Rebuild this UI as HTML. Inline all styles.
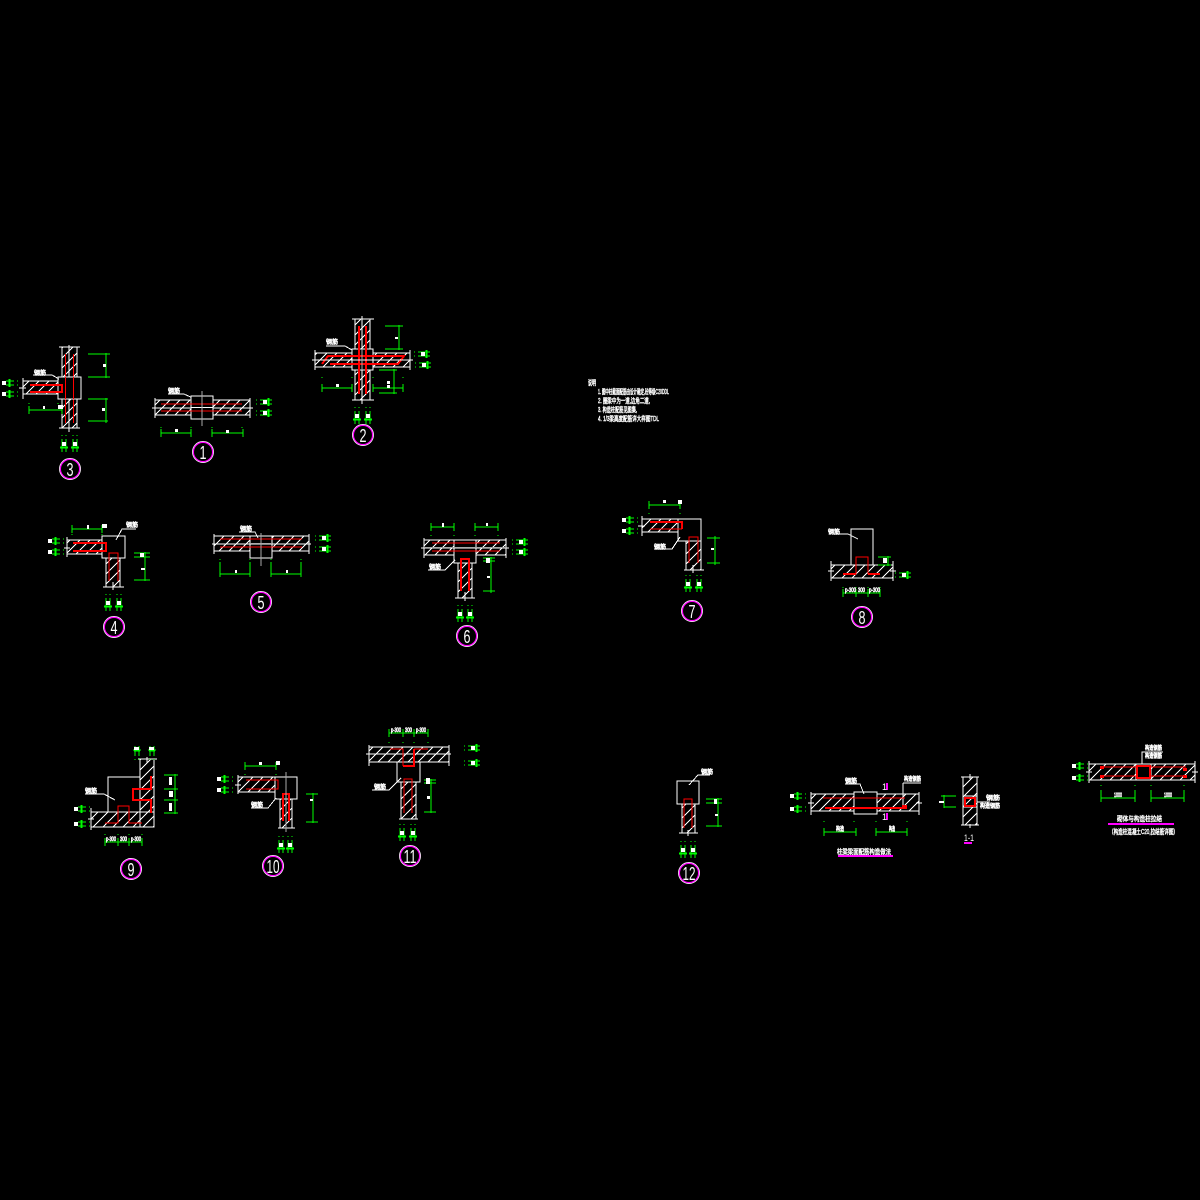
<!DOCTYPE html>
<html><head><meta charset="utf-8"><style>
html,body{margin:0;padding:0;background:#000}
svg{display:block}
.w{fill:none;stroke:#fff;stroke-width:1}
.y{fill:none;stroke:#aaa;stroke-width:1}
.g{fill:none;stroke:#0f0;stroke-width:1}
.r{fill:none;stroke:#f00;stroke-width:1}
.R{fill:none;stroke:#f00;stroke-width:2}
.m{fill:none;stroke:#f0f;stroke-width:2}
.h{fill:url(#h);stroke:#fff;stroke-width:1}
.n{fill:#000;stroke:#fff;stroke-width:1}
text{font-family:"Liberation Sans","Noto Sans CJK SC",sans-serif;fill:#fff}
.t{font-size:6px;stroke:#fff;stroke-width:.6}
.s{font-size:7px;stroke:#fff;stroke-width:.45}
.c{font-size:18px;text-anchor:middle}
</style></head><body>
<svg width="1200" height="1200" viewBox="0 0 1200 1200" xmlns="http://www.w3.org/2000/svg">
<defs>
<pattern id="h" patternUnits="userSpaceOnUse" width="10" height="10"><path d="M-1,11L11,-1M-1,1L1,-1M9,11L11,9" stroke="#fff" stroke-width="1" fill="none" shape-rendering="crispEdges"/></pattern>
<g id="tv"><path d="M-2,-4v1M2,-4v1M-2,0V13M2,0V13M-4,8H4M-3,9H3M-4,9H4" class="g"/><rect x="-2" y="3" width="4" height="4" fill="#fff"/></g>
<g id="tu"><path d="M-2,10v1M2,10v1M-2,-3V7M2,-3V7M-4,1H4M-3,2H3" class="g"/><rect x="-3" y="-2" width="5" height="3" fill="#fff"/></g>
<g id="tr"><path d="M0,-2h1M0,2h1M4,-2H16M4,2H16M12,-4V4M13,-4V4" class="g"/><rect x="7" y="-2" width="4" height="4" fill="#fff"/></g>
<g id="tl"><path d="M0,-2h1M0,2h1M-3,-2H-11M-3,2H-11M-8,-4V4M-7,-4V4" class="g"/><rect x="-15" y="-2" width="4" height="4" fill="#fff"/></g>
<g id="cc"><circle r="10.5" fill="none" stroke="#fff" stroke-width=".9"/><circle r="9.6" fill="none" stroke="#f0f" stroke-width="1.2"/></g>
</defs>
<rect width="1200" height="1200" fill="#000"/>
<g shape-rendering="crispEdges">

<!-- 3 -->
<rect class="h" x="62" y="347" width="15" height="81"/>
<path class="w" d="M59,347H80M59,428H80M69,345V432"/>
<rect class="h" x="23" y="381" width="36" height="13"/>
<path class="r" d="M65.500,354V423M73.500,354V423"/>
<rect class="n" x="58" y="377" width="23" height="22"/>
<path class="r" d="M65.500,377V399M73.500,377V399"/>
<path class="R" d="M30,385H62V392H30"/>
<path class="w" d="M23,378V399M19,388H26M33,375H52L59,379"/>
<text class="t" x="34" y="375">钢筋</text>
<path class="g" d="M88,354H110M88,377H110M106,353V378M88,399H108M88,421H108M106,398V423M29,410H62M29,406V414M62,406V414M29,403v1M58,403v1"/>
<rect x="103" y="364" width="3" height="3" fill="#fff"/><rect x="102" y="408" width="3" height="3" fill="#fff"/><rect x="43" y="406" width="2" height="3" fill="#fff"/><rect x="58" y="405" width="5" height="4" fill="#fff"/>
<use href="#tl" x="17" y="383"/><use href="#tl" x="17" y="394"/>
<use href="#tv" x="64" y="439"/><use href="#tv" x="75" y="439"/>

<!-- 1 -->
<rect class="h" x="155" y="400" width="95" height="15"/>
<path class="w" d="M155,398V418M250,398V418M152,408H253M168,394H184L195,399"/>
<rect class="n" x="191" y="396" width="22" height="23"/>
<path class="r" d="M161,404H242M161,411H242"/>
<path class="w" d="M191,407.500H213"/>
<path class="y" d="M202,391V426"/>
<text class="t" x="168" y="393">钢筋</text>
<path class="g" d="M161,433H191M212,433H243M161,429V437M191,429V437M212,429V437M243,429V437M161,427v1M191,427v1M212,427v1M242,427v1"/>
<rect x="175" y="429" width="3" height="3" fill="#fff"/><rect x="226" y="430" width="3" height="3" fill="#fff"/>
<use href="#tr" x="256" y="402"/><use href="#tr" x="256" y="413"/>

<!-- 2 -->
<rect class="h" x="355" y="319" width="15" height="81"/>
<path class="w" d="M352,319H374M352,400H374M362,316V404"/>
<rect class="h" x="315" y="353" width="95" height="14"/>
<rect class="n" x="352" y="349" width="21" height="21"/>
<path class="R" d="M359,326V394M366,326V394M322,364L328,356H404L398,364H330"/>
<path class="R" d="M352,356H373M352,364H373"/>
<path class="w" d="M315,350V370M410,350V370M312,360H413M326,346H345L352,350"/>
<path class="y" d="M362,349V370"/>
<text class="t" x="326" y="344">钢筋</text>
<path class="g" d="M385,326H403M385,349H403M399,325V350M379,370H397M379,393H397M394,369V394M322,388H352M322,384V392M352,384V392M373,388H403M373,384V392M403,384V392M322,377v1M352,377v1M373,377v1M403,377v1"/>
<rect x="395" y="337" width="3" height="2" fill="#fff"/><rect x="336" y="384" width="3" height="3" fill="#fff"/><rect x="387" y="381" width="3" height="3" fill="#fff"/><rect x="387" y="385" width="3" height="3" fill="#fff"/>
<use href="#tr" x="414" y="354"/><use href="#tr" x="415" y="365"/>
<use href="#tv" x="357" y="411"/><use href="#tv" x="368" y="411"/>

<!-- 4 -->
<rect class="h" x="67" y="540" width="35" height="14"/>
<rect class="h" x="106" y="558" width="14" height="29"/>
<rect class="n" x="102" y="536" width="23" height="22"/>
<path class="w" d="M67,537V557M64,548H70M103,587H124M113,582V590M136,529H122L116,540"/>
<text class="t" x="126" y="527">钢筋</text>
<path class="R" d="M73,543H106V551H73"/>
<path class="r" d="M109,581V553H118V581"/>
<path class="g" d="M72,529H102M72,525V533M102,525V533M72,534v1M102,534v1M134,553H150M134,557H150M134,580H150M145,552V581"/>
<rect x="87" y="525" width="2" height="4" fill="#fff"/><rect x="102" y="524" width="5" height="4" fill="#fff"/><rect x="140" y="553" width="4" height="4" fill="#fff"/><rect x="141" y="568" width="4" height="2" fill="#fff"/>
<use href="#tl" x="63" y="541"/><use href="#tl" x="63" y="552"/>
<use href="#tv" x="108" y="598"/><use href="#tv" x="119" y="598"/>

<!-- 5 -->
<rect class="h" x="214" y="536" width="95" height="15"/>
<rect class="n" x="250" y="536" width="22" height="22"/>
<path class="w" d="M214,534V554M309,534V554M212,544H311M239,532H255L258,538"/>
<path class="r" d="M220,539H302M220,547H302"/>
<path class="y" d="M261,533V566M250,543.500H272"/>
<text class="t" x="240" y="531">钢筋</text>
<path class="g" d="M220,574H250M271,574H301M220,562V577M250,562V577M271,562V577M301,562V577M220,559v1M250,559v1M271,559v1M301,559v1"/>
<rect x="235" y="570" width="2" height="3" fill="#fff"/><rect x="286" y="570" width="2" height="3" fill="#fff"/>
<use href="#tr" x="315" y="538"/><use href="#tr" x="315" y="549"/>

<!-- 6 -->
<rect class="h" x="424" y="540" width="82" height="15"/>
<rect class="h" x="458" y="563" width="14" height="35"/>
<rect class="n" x="454" y="540" width="22" height="23"/>
<path class="w" d="M424,538V558M506,538V558M421,548H509M455,598H475M465,592V601M428,570H445L455,560"/>
<path class="y" d="M424,547.500H506"/>
<path class="r" d="M432,543H500M432,551H500"/>
<path class="R" d="M461,591V559H469V591"/>
<text class="t" x="429" y="569">钢筋</text>
<path class="g" d="M431,527H454M475,527H498M431,523V531M454,523V531M475,523V531M498,523V531M431,535v1M454,535v1M475,535v1M498,535v1M483,558H495M483,561H495M483,591H495M491,557V593"/>
<rect x="442" y="523" width="2" height="4" fill="#fff"/><rect x="486" y="523" width="2" height="3" fill="#fff"/><rect x="486" y="558" width="4" height="5" fill="#fff"/><rect x="487" y="576" width="3" height="2" fill="#fff"/>
<use href="#tr" x="512" y="542"/><use href="#tr" x="512" y="552"/>
<use href="#tv" x="460" y="609"/><use href="#tv" x="470" y="609"/>

<!-- 7 -->
<rect class="h" x="642" y="519" width="36" height="13"/>
<rect class="h" x="686" y="541" width="15" height="29"/>
<rect class="n" x="678" y="519" width="23" height="22"/>
<path class="w" d="M642,516V536M638,526H645M684,570H704M693,565V573M654,549H672L680,537"/>
<path class="R" d="M650,522H682V529"/>
<path class="r" d="M650,529H682M689,563V537H698V563"/>
<text class="t" x="654" y="549">钢筋</text>
<path class="g" d="M649,505H680M649,501V509M680,501V509M649,513v1M680,513v1M707,538H720M707,563H720M715,536V565"/>
<rect x="663" y="500" width="3" height="3" fill="#fff"/><rect x="678" y="500" width="4" height="4" fill="#fff"/><rect x="711" y="548" width="3" height="2" fill="#fff"/>
<use href="#tl" x="637" y="520"/><use href="#tl" x="637" y="531"/>
<use href="#tv" x="688" y="579"/><use href="#tv" x="699" y="579"/>

<!-- 8 -->
<rect class="h" x="831" y="565" width="62" height="13"/>
<path class="w" d="M851,565V529H873V565M831,561V581M893,561V581M828,571H834M890,571H896M837,534H848L858,539"/>
<path class="r" d="M856,574V557H868V574"/>
<path class="R" d="M843,574H856M868,574H880"/>
<text class="t" x="828" y="534">钢筋</text>
<path class="g" d="M878,557H891M878,565H891M888,556V566M843,593H880M843,589V597M856,589V597M868,589V597M880,589V597M843,587v1M856,587v1M868,587v1M880,587v1"/>
<rect x="883" y="558" width="4" height="5" fill="#fff"/>
<text class="t" x="845" y="592" textLength="11" lengthAdjust="spacingAndGlyphs">p-300</text><text class="t" x="858" y="592" textLength="7" lengthAdjust="spacingAndGlyphs">300</text><text class="t" x="869" y="592" textLength="11" lengthAdjust="spacingAndGlyphs">p-300</text>
<use href="#tr" x="895" y="575"/>

<!-- 9 -->
<rect class="h" x="140" y="759" width="14" height="68"/>
<rect class="h" x="91" y="812" width="63" height="15"/>
<path class="w" d="M108,812V777H140M91,808V830M88,819H94M138,759H157M147,757V763M85,794H104L115,800"/>
<path class="R" d="M151,776V789H133V800H151V813"/>
<path class="r" d="M105,823H118V806H129V823H142"/>
<text class="t" x="85" y="793">钢筋</text>
<path class="g" d="M164,775H178M164,789H178M164,800H178M164,813H178M175,774V814M105,842H142M105,838V846M118,838V846M129,838V846M142,838V846M105,834v1M118,834v1M129,834v1M142,834v1"/>
<rect x="169" y="777" width="3" height="8" fill="#fff"/><rect x="169" y="791" width="4" height="6" fill="#fff"/><rect x="169" y="803" width="3" height="8" fill="#fff"/>
<text class="t" x="106" y="841" textLength="10" lengthAdjust="spacingAndGlyphs">p-300</text><text class="t" x="120" y="841" textLength="7" lengthAdjust="spacingAndGlyphs">300</text><text class="t" x="131" y="841" textLength="10" lengthAdjust="spacingAndGlyphs">p-300</text>
<use href="#tu" x="137" y="749"/><use href="#tu" x="152" y="749"/>
<use href="#tl" x="89" y="809"/><use href="#tl" x="89" y="824"/>

<!-- 10 -->
<rect class="h" x="238" y="777" width="37" height="15"/>
<rect class="h" x="280" y="799" width="12" height="29"/>
<rect class="n" x="275" y="777" width="22" height="22"/>
<path class="w" d="M238,775V794M235,785H241M278,828H295M251,808H268L276,798"/>
<path class="r" d="M246,789H278V780H246"/>
<path class="R" d="M283,821V794H289V821"/>
<path class="y" d="M286,772V832"/>
<text class="t" x="251" y="807">钢筋</text>
<path class="g" d="M245,766H276M245,762V770M276,762V770M245,774v1M276,774v1M306,794H318M306,822H318M313,793V823"/>
<rect x="259" y="762" width="3" height="3" fill="#fff"/><rect x="276" y="761" width="4" height="4" fill="#fff"/><rect x="310" y="799" width="3" height="2" fill="#fff"/>
<use href="#tl" x="232" y="779"/><use href="#tl" x="232" y="790"/>
<use href="#tv" x="281" y="840"/><use href="#tv" x="290" y="840"/>

<!-- 11 -->
<rect class="h" x="369" y="747" width="80" height="15"/>
<rect class="h" x="401" y="782" width="15" height="37"/>
<rect class="n" x="397" y="762" width="23" height="20"/>
<path class="w" d="M369,745V766M449,745V766M366,754H451M399,819H418M372,790H389L401,778"/>
<path class="r" d="M390,749H403V766M414,749H428M404,813V779H412V813"/>
<path class="R" d="M403,766H414V749"/>
<text class="t" x="374" y="789">钢筋</text>
<path class="g" d="M389,733H428M389,729V737M403,729V737M414,729V737M428,729V737M389,742v1M403,742v1M414,742v1M428,742v1M424,780H436M424,783H436M424,812H436M431,779V813"/>
<text class="t" x="391" y="732" textLength="10" lengthAdjust="spacingAndGlyphs">p-300</text><text class="t" x="405" y="732" textLength="7" lengthAdjust="spacingAndGlyphs">300</text><text class="t" x="416" y="732" textLength="10" lengthAdjust="spacingAndGlyphs">p-300</text>
<rect x="426" y="778" width="4" height="6" fill="#fff"/><rect x="427" y="796" width="3" height="3" fill="#fff"/>
<use href="#tr" x="464" y="748"/><use href="#tr" x="464" y="763"/>
<use href="#tv" x="402" y="828"/><use href="#tv" x="413" y="828"/>

<!-- 12 -->
<rect class="h" x="682" y="804" width="13" height="29"/>
<rect class="n" x="677" y="781" width="22" height="23"/>
<path class="w" d="M679,833H698M688,830V836M710,775H698L689,785"/>
<path class="r" d="M684,828V799H692V828"/>
<text class="t" x="701" y="774">钢筋</text>
<path class="g" d="M706,799H722M706,803H722M706,826H722M718,798V827"/>
<rect x="714" y="799" width="3" height="5" fill="#fff"/><rect x="715" y="814" width="3" height="2" fill="#fff"/>
<use href="#tv" x="683" y="845"/><use href="#tv" x="693" y="845"/>

<!-- beam -->
<rect class="h" x="811" y="794" width="108" height="17"/>
<rect class="n" x="854" y="792" width="23" height="22"/>
<path class="w" d="M811,792V815M919,792V815M808,803H814M916,803H922M845,784H860L864,794M903,783H921M903,783V808"/>
<path class="r" d="M823,798H905"/>
<path class="R" d="M825,808H905"/>
<rect x="902" y="805" width="5" height="4" fill="#f00"/>
<path class="m" d="M887,783V790M887,813V820"/>
<text class="t" x="845" y="783">钢筋</text>
<text x="882" y="790" font-size="9">1</text><text x="882" y="820" font-size="9">1</text>
<text class="t" x="904" y="781" textLength="17" lengthAdjust="spacingAndGlyphs">构造钢筋</text>
<path class="g" d="M824,832H856M876,832H907M824,828V836M856,828V836M876,828V836M907,828V836M824,821v1M854,821v1M876,821v1M907,821v1"/>
<text class="t" x="836" y="831" textLength="8" lengthAdjust="spacingAndGlyphs">构造</text><text class="t" x="889" y="831" textLength="6" lengthAdjust="spacingAndGlyphs">构造</text>
<use href="#tl" x="805" y="796"/><use href="#tl" x="805" y="809"/>
<text class="s" x="837" y="854" textLength="54" lengthAdjust="spacingAndGlyphs" stroke-width=".5">柱梁梁面配筋构造做法</text>
<path class="m" d="M838,856H893"/>

<!-- section 1-1 -->
<rect class="h" x="963" y="777" width="14" height="48"/>
<path class="w" d="M961,777H979M961,825H979M970,774V779M970,824V828M963,796H977M963,807H977M977,802H990"/>
<rect x="965" y="798" width="10" height="8" fill="none" stroke="#f00" stroke-width="2"/>
<text class="t" x="986" y="800" textLength="14" lengthAdjust="spacingAndGlyphs">钢筋</text><text class="t" x="980" y="808" textLength="20" lengthAdjust="spacingAndGlyphs">构造钢筋</text>
<path class="g" d="M941,796H956M944,807H956M944,795V808"/>
<rect x="939" y="801" width="5" height="2" fill="#fff"/>
<text x="964" y="841" font-size="9" textLength="10" lengthAdjust="spacingAndGlyphs">1-1</text>
<path class="m" d="M964,843H972"/>

<!-- right beam -->
<rect class="h" x="1089" y="764" width="106" height="16"/>
<rect class="n" x="1136" y="764" width="15" height="16"/>
<path class="w" d="M1089,761V783M1195,761V783M1086,772H1092M1192,772H1198M1142,764V752H1163"/>
<path class="r" d="M1101,767H1136M1151,767H1186M1101,776H1136M1151,776H1186"/>
<rect x="1137" y="766" width="13" height="12" fill="none" stroke="#f00" stroke-width="2"/>
<rect x="1100" y="766" width="4" height="3" fill="#f00"/><rect x="1100" y="775" width="4" height="3" fill="#f00"/><rect x="1183" y="768" width="4" height="3" fill="#f00"/><rect x="1183" y="775" width="4" height="3" fill="#f00"/>
<text class="t" x="1145" y="750" textLength="17" lengthAdjust="spacingAndGlyphs">构造钢筋</text><text class="t" x="1145" y="758" textLength="17" lengthAdjust="spacingAndGlyphs">构造钢筋</text>
<path class="g" d="M1101,798H1135M1151,798H1184M1101,790V802M1135,790V802M1151,790V802M1184,790V802M1101,785v1M1135,785v1M1151,785v1M1184,785v1"/>
<text class="t" x="1114" y="797" textLength="8" lengthAdjust="spacingAndGlyphs">1000</text><text class="t" x="1164" y="797" textLength="8" lengthAdjust="spacingAndGlyphs">1000</text>
<use href="#tl" x="1087" y="766"/><use href="#tl" x="1087" y="778"/>
<text class="s" x="1117" y="821" textLength="45" lengthAdjust="spacingAndGlyphs" stroke-width=".5">砌体与构造柱拉结</text>
<path class="m" d="M1108,824H1174"/>
<text class="s" x="1109" y="834" textLength="69" lengthAdjust="spacingAndGlyphs">（构造柱混凝土C20,拉结筋详图）</text>

<!-- notes -->
<text class="s" x="588" y="385" textLength="8" lengthAdjust="spacingAndGlyphs">说明</text>
<text class="s" x="598" y="394" textLength="71" lengthAdjust="spacingAndGlyphs">1. 图中柱截面配筋由设计确定,砼等级C20DDL</text>
<text class="s" x="598" y="403" textLength="52" lengthAdjust="spacingAndGlyphs">2. 圈梁中为一道,边角二道,</text>
<text class="s" x="598" y="412" textLength="39" lengthAdjust="spacingAndGlyphs">3. 构造柱配筋见图集,</text>
<text class="s" x="598" y="421" textLength="61" lengthAdjust="spacingAndGlyphs">4. 1/3梁高度配筋详大样图TDL</text>
</g>

<!-- circles -->
<use href="#cc" x="70" y="469"/><text class="c" x="70" y="476" textLength="7" lengthAdjust="spacingAndGlyphs">3</text>
<use href="#cc" x="203" y="452"/><text class="c" x="203" y="459" textLength="7" lengthAdjust="spacingAndGlyphs">1</text>
<use href="#cc" x="363" y="435"/><text class="c" x="363" y="442" textLength="7" lengthAdjust="spacingAndGlyphs">2</text>
<use href="#cc" x="114" y="627"/><text class="c" x="114" y="634" textLength="7" lengthAdjust="spacingAndGlyphs">4</text>
<use href="#cc" x="261" y="602"/><text class="c" x="261" y="609" textLength="7" lengthAdjust="spacingAndGlyphs">5</text>
<use href="#cc" x="467" y="636"/><text class="c" x="467" y="643" textLength="7" lengthAdjust="spacingAndGlyphs">6</text>
<use href="#cc" x="692" y="611"/><text class="c" x="692" y="618" textLength="7" lengthAdjust="spacingAndGlyphs">7</text>
<use href="#cc" x="862" y="617"/><text class="c" x="862" y="624" textLength="7" lengthAdjust="spacingAndGlyphs">8</text>
<use href="#cc" x="131" y="869"/><text class="c" x="131" y="876" textLength="7" lengthAdjust="spacingAndGlyphs">9</text>
<use href="#cc" x="273" y="866"/><text class="c" x="273" y="873" textLength="13" lengthAdjust="spacingAndGlyphs">10</text>
<use href="#cc" x="410" y="856"/><text class="c" x="410" y="863" textLength="13" lengthAdjust="spacingAndGlyphs">11</text>
<use href="#cc" x="689" y="873"/><text class="c" x="689" y="880" textLength="13" lengthAdjust="spacingAndGlyphs">12</text>
</svg>
</body></html>
